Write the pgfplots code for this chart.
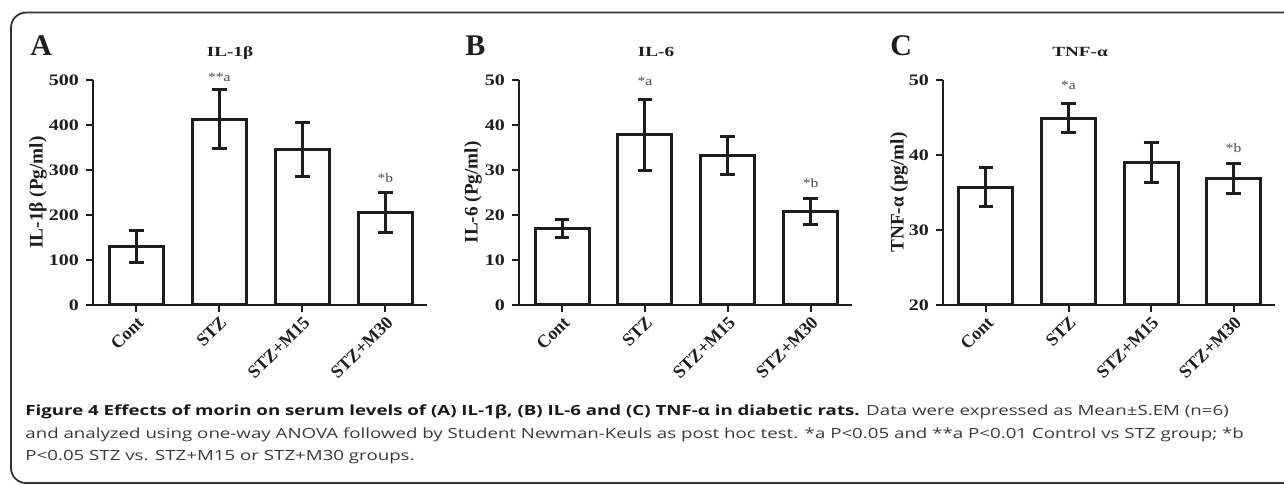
\documentclass[border=0pt]{standalone}
\usepackage{fontspec}
\setmainfont{Liberation Serif}
\newfontfamily\capsans{Open Sans}
\usepackage{graphicx}
\usepackage{pgfplots}
\pgfplotsset{compat=1.18}

\definecolor{ink}{HTML}{1E1E1E}
\definecolor{capgray}{HTML}{3A3A3A}
\definecolor{framegray}{HTML}{333333}

% the reference's lettering is widened horizontally
\newcommand\wide[2]{\scalebox{#1}[1]{#2}}
\newcommand\ytfont{\bfseries\fontsize{8}{9}\selectfont}
\newcommand\xtfont{\bfseries\fontsize{9}{10}\selectfont}
\newcommand\ylfont{\bfseries\fontsize{9.6}{10}\selectfont}
\newcommand\ttlfont{\bfseries\fontsize{7}{8}\selectfont}
\newcommand\annfont{\fontsize{6.5}{7}\selectfont}

\tikzset{anno/.style={font=\annfont, text=black!70, inner sep=0pt}}

\pgfplotsset{
  panel/.style={
    scale only axis, height=112.5pt, anchor=south west,
    axis x line*=bottom, axis y line*=left,
    axis line style={line width=1pt, ink},
    xmin=-0.52, xmax=3.5,
    xtick={0,1,2,3},
    xticklabels={Cont,STZ,STZ+M15,STZ+M30},
    tick align=outside, major tick length=3.5pt,
    tick style={line width=1pt, ink},
    xticklabel style={rotate=45, anchor=north east, font=\xtfont, inner sep=1pt, text=ink},
    yticklabel={\wide{1.25}{\pgfmathprintnumber{\tick}}},
    yticklabel style={font=\ytfont, text=ink},
    ylabel style={font=\ylfont, text=ink, anchor=center},
    /pgf/number format/assume math mode=true,
    ybar, bar width=27pt,
    clip mode=individual,
  },
  bars/.style={draw=ink, fill=white, line width=1.5pt,
    error bars/.cd, y dir=both, y explicit,
    error bar style={line width=1.5pt, ink},
    error mark options={rotate=90, mark size=3.7pt, line width=1.5pt, ink}},
}

\begin{document}
\begin{tikzpicture}
\useasboundingbox (0pt,0pt) rectangle (642pt,-242.5pt);
\draw[framegray, line width=0.9pt, rounded corners=7.5pt] (5.5pt,-6.3pt) rectangle (660pt,-241.5pt);

% A: IL-1beta
\begin{axis}[panel, at={(46.5pt,-152.5pt)}, width=167pt,
  ymin=0, ymax=500, ytick={0,100,...,500},
  ylabel={IL-1β (Pg/ml)},
  ylabel style={at={(axis description cs:-0.165,0.5)}}]
\addplot[bars] coordinates {
  (0,130) +- (0,36)
  (1,413) +- (0,65)
  (2,346) +- (0,60)
  (3,206) +- (0,45)
};
\node[anno] at (axis cs:1,507) {\wide{1.2}{**a}};
\node[anno] at (axis cs:3,282) {\wide{1.2}{*b}};
\end{axis}

% B: IL-6
\begin{axis}[panel, at={(259.5pt,-152.5pt)}, width=166.5pt,
  ymin=0, ymax=50, ytick={0,10,...,50},
  ylabel={IL-6 (Pg/ml)},
  ylabel style={at={(axis description cs:-0.138,0.5)}}]
\addplot[bars] coordinates {
  (0,17.0) +- (0,1.9)
  (1,37.8) +- (0,7.8)
  (2,33.3) +- (0,4.2)
  (3,20.8) +- (0,2.9)
};
\node[anno] at (axis cs:1,49.6) {\wide{1.2}{*a}};
\node[anno] at (axis cs:3,27.1) {\wide{1.2}{*b}};
\end{axis}

% C: TNF-alpha
\begin{axis}[panel, at={(471.5pt,-152.5pt)}, width=166pt,
  ymin=20, ymax=50, ytick={20,30,40,50},
  ylabel={TNF-α (pg/ml)},
  ylabel style={at={(axis description cs:-0.1325,0.5)}}]
\addplot[bars] coordinates {
  (0,35.7) +- (0,2.6)
  (1,44.9) +- (0,1.9)
  (2,39.0) +- (0,2.65)
  (3,36.8) +- (0,2.0)
};
\node[anno] at (axis cs:1,49.3) {\wide{1.2}{*a}};
\node[anno] at (axis cs:3,40.9) {\wide{1.2}{*b}};
\end{axis}

\begin{scope}[x=0.5pt, y=-0.5pt]
\node[anchor=base west, inner sep=0pt, font=\bfseries\fontsize{15}{16}\selectfont, text=ink] at (30,56) {A};
\node[anchor=base west, inner sep=0pt, font=\bfseries\fontsize{15}{16}\selectfont, text=ink] at (465,56) {B};
\node[anchor=base west, inner sep=0pt, font=\bfseries\fontsize{15}{16}\selectfont, text=ink] at (890,56) {C};
\node[anchor=base, inner sep=0pt, font=\ttlfont, text=ink] at (230,57) {\wide{1.37}{IL-1β}};
\node[anchor=base, inner sep=0pt, font=\ttlfont, text=ink] at (656,57) {\wide{1.37}{IL-6}};
\node[anchor=base, inner sep=0pt, font=\ttlfont, text=ink] at (1080,57) {\wide{1.37}{TNF-α}};
\begin{scope}[every node/.style={anchor=base west, inner sep=0pt, font=\capsans\fontsize{7}{8}\selectfont, text=capgray}]
\node at (25,416) {\wide{1.335}{{\bfseries\color{black!90}Figure 4 Effects of morin on serum levels of (A) IL-1β, (B) IL-6 and (C) TNF-α in diabetic rats.} Data were expressed as Mean±S.EM (n=6)}};
\node at (25,438.3) {\wide{1.335}{and analyzed using one-way ANOVA followed by Student Newman-Keuls as post hoc test. *a P<0.05 and **a P<0.01 Control vs STZ group; *b}};
\node at (25,460.7) {\wide{1.335}{P<0.05 STZ vs. STZ+M15 or STZ+M30 groups.}};
\end{scope}
\end{scope}
\end{tikzpicture}
\end{document}
